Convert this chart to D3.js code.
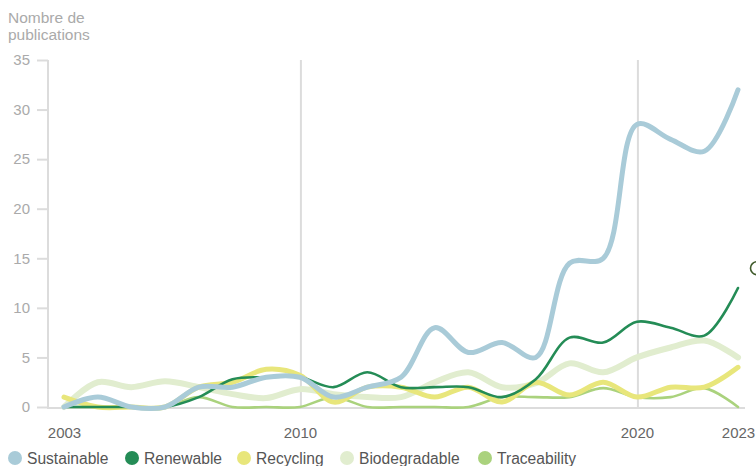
<!DOCTYPE html>
<html><head><meta charset="utf-8">
<script src="https://cdn.jsdelivr.net/npm/d3@7"></script>
<style>
html,body{margin:0;padding:0;background:#fff;}
svg{display:block;font-family:"Liberation Sans",Arial,sans-serif;}
</style></head>
<body>
<svg id="chart" width="756" height="466"></svg>
<script>
const years = [2003,2004,2005,2006,2007,2008,2009,2010,2011,2012,2013,2014,2015,2016,2017,2018,2019,2020,2021,2022,2023];
const xTickYears = [2003, 2010, 2020, 2023];
const yTicks = [0,5,10,15,20,25,30,35];
const seriesNames = ["Sustainable","Renewable","Recycling","Biodegradable","Traceability"];
const sustainable   = [0,1,0,0,2,2,3,3,1,2,3,8,5.5,6.5,5,14.5,15,28.5,27,25.8,32];
const renewable     = [0,0,0,0,1,2.8,3,3,2,3.5,2,2,2,1,2.8,7,6.5,8.6,8,7.2,12];
const recycling     = [1,0,0,0,2,2.5,3.8,3.2,0.5,2,2,1,2,0.5,2.5,1.2,2.5,1,2,2,4];
const biodegradable = [0,2.5,2,2.6,2,1.3,0.9,1.8,1.3,1,1,2.5,3.5,2,2.4,4.4,3.5,5,6,6.7,5];
const traceability  = [0,0,0,0,1,0,0,0,1,0,0,0,0,1,1,1,1.9,1,1,1.9,0];
const yLabelLines = ["Nombre de","publications"];

const colors = {Sustainable:"#a9cbd8",Renewable:"#248c56",Recycling:"#e8e67b",Biodegradable:"#e1edcf",Traceability:"#aad27d"};
const widths = {Sustainable:5,Renewable:2.6,Recycling:5,Biodegradable:6,Traceability:2.6};
const dataBy = {Sustainable:sustainable,Renewable:renewable,Recycling:recycling,Biodegradable:biodegradable,Traceability:traceability};

const svg = d3.select("#chart");
const x = d3.scaleLinear().domain([2003,2023]).range([64,738]);
const y = d3.scaleLinear().domain([0,35]).range([407,60]);
const grid = "#dcdcdc";

// y axis label
svg.append("text").attr("fill","#aaa").attr("font-size",15.5)
  .selectAll("tspan").data(yLabelLines).join("tspan")
  .attr("x",8).attr("y",(d,i)=>23+i*17).text(d=>d);

// vertical gridlines at 2010, 2020
svg.selectAll("line.vg").data([2010,2020]).join("line")
  .attr("x1",d=>x(d)+1).attr("x2",d=>x(d)+1).attr("y1",y(35)).attr("y2",y(0))
  .attr("stroke",grid).attr("stroke-width",2);

// baseline
svg.append("line").attr("x1",48).attr("x2",745).attr("y1",y(0)+1).attr("y2",y(0)+1)
  .attr("stroke",grid).attr("stroke-width",2);

// y axis
const yAxis = d3.axisLeft(y).tickValues(yTicks).tickSize(11).tickPadding(7);
const gy = svg.append("g").attr("transform","translate(48,0)").call(yAxis);
gy.select(".domain").attr("stroke",grid).attr("stroke-width",2).attr("d",`M0,${y(35)}V${y(0)+2}`);
gy.selectAll(".tick line").attr("stroke",grid).attr("stroke-width",2);
gy.selectAll(".tick text").attr("fill","#aaa").attr("font-size",15).attr("font-family","Liberation Sans, Arial, sans-serif");

// x axis labels
const xAxis = d3.axisBottom(x).tickValues(xTickYears).tickFormat(d3.format("d")).tickSize(0).tickPadding(20);
const gx = svg.append("g").attr("transform",`translate(0,${y(0)})`).call(xAxis);
gx.select(".domain").remove();
gx.selectAll(".tick text").attr("fill","#666").attr("font-size",15).attr("font-family","Liberation Sans, Arial, sans-serif");

// lines
const line = d3.line().x((d,i)=>x(years[i])).y(d=>y(d)).curve(d3.curveCatmullRom.alpha(0.5));
const order = ["Traceability","Biodegradable","Recycling","Renewable","Sustainable"];
svg.append("g").selectAll("path").data(order).join("path")
  .attr("d",n=>line(dataBy[n])).attr("fill","none")
  .attr("stroke",n=>colors[n]).attr("stroke-width",n=>widths[n])
  .attr("stroke-linecap","round").attr("stroke-linejoin","round");

// small annotation circle at right edge
svg.append("circle").attr("cx",757).attr("cy",y(14)).attr("r",6.5)
  .attr("fill","none").attr("stroke","#3f5a2a").attr("stroke-width",1.6);

// legend
const legendX = [15,132,244,347,485];
const lg = svg.append("g").selectAll("g").data(seriesNames).join("g")
  .attr("transform",(d,i)=>`translate(${legendX[i]},458)`);
lg.append("circle").attr("r",7).attr("fill",d=>colors[d]);
lg.append("text").attr("x",12).attr("y",5.5).attr("font-size",15.6).attr("fill","#555").text(d=>d);
</script>
</body></html>
